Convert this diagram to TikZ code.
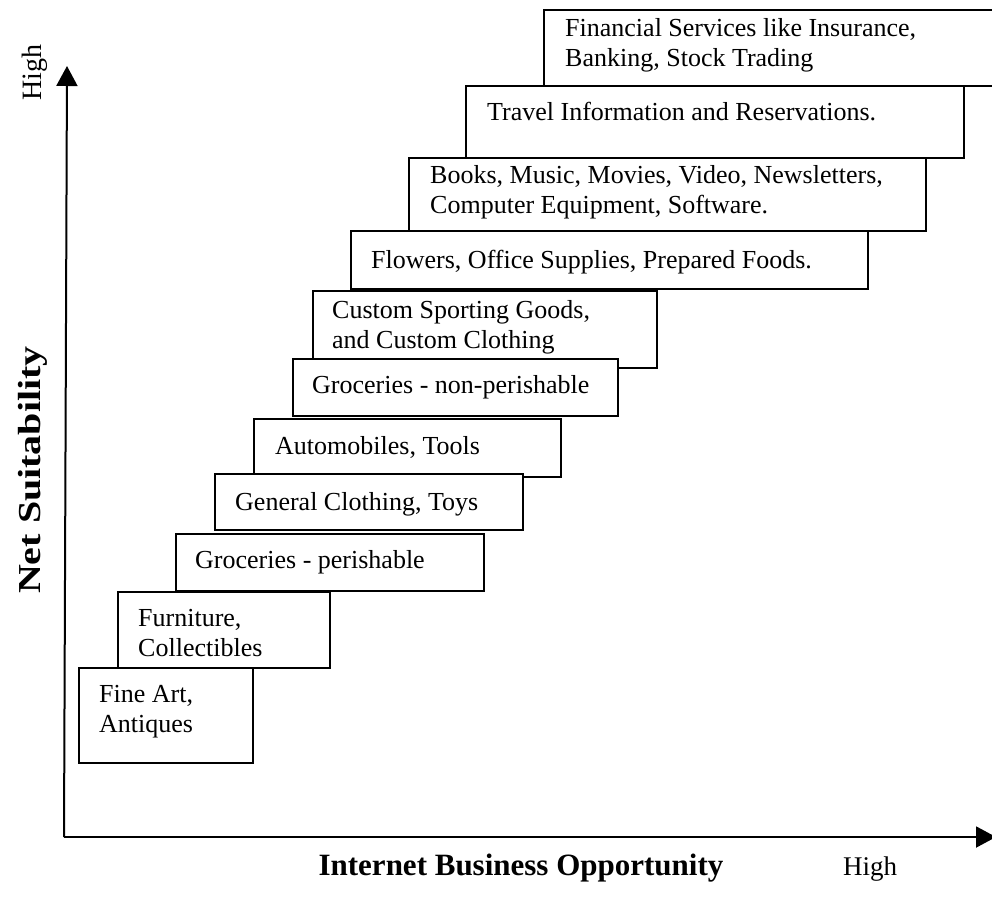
\documentclass[tikz,border=0pt]{standalone}
\usepackage{fontspec}
\setmainfont{Liberation Serif}
\usetikzlibrary{arrows.meta}
\tikzset{
  stepbox/.style={draw=black, fill=white, line width=1.6pt, rectangle, inner sep=0pt, anchor=north west},
  boxtext/.style={anchor=base west, inner sep=0pt, align=left, font=\fontsize{26}{30}\selectfont},
  axis/.style={line width=2pt, -{Triangle[length=20pt,width=21pt]}},
  axlabel/.style={inner sep=0pt, font=\fontsize{30}{34}\selectfont},
}
\begin{document}
\begin{tikzpicture}[x=1pt,y=-1pt]
\useasboundingbox (0,0) rectangle (992,896);
% boxes from top to bottom (multi-line texts anchored at the last baseline)
\node[stepbox, minimum width=470pt, minimum height=76pt] (fin) at (543,9) {};
\node[boxtext] (fint) at (565,67) {Financial Services like Insurance,\\Banking, Stock Trading};
\node[stepbox, minimum width=498pt, minimum height=72pt] (trav) at (465,85) {};
\node[boxtext] (travt) at (487,121) {Travel Information and Reservations.};
\node[stepbox, minimum width=517pt, minimum height=73pt] (book) at (408,157) {};
\node[boxtext] (bookt) at (430,213) {Books, Music, Movies, Video, Newsletters,\\Computer Equipment, Software.};
\node[stepbox, minimum width=517pt, minimum height=58pt] (flow) at (350,230) {};
\node[boxtext] (flowt) at (371,268) {Flowers, Office Supplies, Prepared Foods.};
\node[stepbox, minimum width=344pt, minimum height=77pt] (cust) at (312,290) {};
\node[boxtext] (custt) at (332,348) {Custom Sporting Goods,\\and Custom Clothing};
\node[stepbox, minimum width=325pt, minimum height=57pt] (grnp) at (292,358) {};
\node[boxtext] (grnpt) at (312,393) {Groceries - non-perishable};
\node[stepbox, minimum width=307pt, minimum height=58pt] (auto) at (253,418) {};
\node[boxtext] (autot) at (275,454) {Automobiles, Tools};
\node[stepbox, minimum width=308pt, minimum height=56pt] (gen) at (214,473) {};
\node[boxtext] (gent) at (235,510) {General Clothing, Toys};
\node[stepbox, minimum width=308pt, minimum height=57pt] (grp) at (175,533) {};
\node[boxtext] (grpt) at (195,568) {Groceries - perishable};
\node[stepbox, minimum width=212pt, minimum height=76pt] (furn) at (117,591) {};
\node[boxtext] (furnt) at (138,656) {Furniture,\\Collectibles};
\node[stepbox, minimum width=174pt, minimum height=95pt] (fine) at (78,667) {};
\node[boxtext] (finet) at (99,732) {Fine Art,\\Antiques};
% axes
\coordinate (orig) at (64,837);
\coordinate (ytip) at (67,66);
\coordinate (xtip) at (996,837);
\draw[axis] (orig) -- (ytip);
\draw[axis] (orig) -- (xtip);
% axis labels
\node[axlabel, rotate=90, anchor=base west, font=\fontsize{28}{32}\selectfont] (yhigh) at (41,101) {High};
\node[axlabel, rotate=90, font=\fontsize{32}{36}\bfseries] (ylab) at (33,470) {\scalebox{1.25}[1]{Net Suitability}};
\node[axlabel, anchor=base, font=\fontsize{31}{35}\bfseries] (xlab) at (521,875) {Internet Business Opportunity};
\node[axlabel, anchor=base west, font=\fontsize{27}{31}\selectfont] (xhigh) at (843,875) {High};
\end{tikzpicture}
\end{document}
